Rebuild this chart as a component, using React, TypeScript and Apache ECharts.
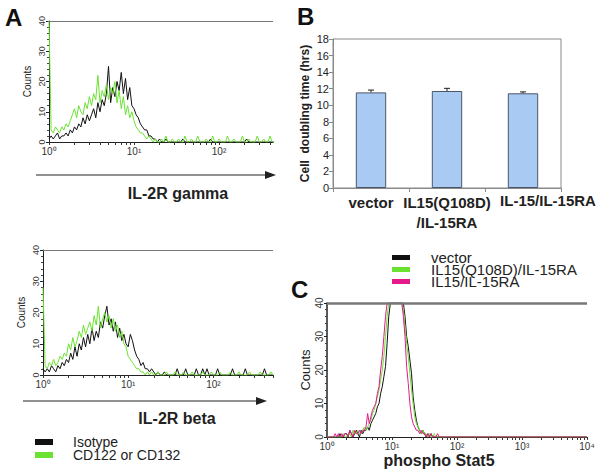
import React, { useEffect, useRef } from "react";
import * as echarts from "echarts";

// ---------- data ----------
// flow-cytometry channels: 40 bins per decade of fluorescence (x axis is log10 of intensity)
const BINS_PER_DECADE = 40;

const aNames = ["Isotype", "CD122 or CD132"];
const cNames = ["vector", "IL15(Q108D)/IL-15RA", "IL15/IL-15RA"];

// Panel A (top) – IL-2R gamma histogram counts per channel bin
const aTopIsotype = [
  1, 2, 1, 2, 3, 1, 2, 2, 3, 2,
  4, 3, 5, 4, 6, 5, 8, 6, 9, 7,
  9, 11, 8, 13, 10, 14, 12, 16, 25, 13,
  18, 15, 20, 17, 23, 16, 21, 14, 18, 12,
  11, 9, 8, 6, 5, 4, 4, 2, 2, 1,
  1, 0, 1, 0, 0, 1, 0, 0, 0, 0,
  0, 0, 0, 1, 0, 0, 0, 0, 0, 0,
  0, 0, 0, 0, 0, 0, 1, 0, 0, 0,
  0, 0, 0, 0, 0, 0, 0, 0, 0, 0,
  0, 0, 0, 1, 0, 0, 0, 0, 0, 0,
  0, 0, 0, 0, 0, 0, 0,
];
const aTopCD = [
  40, 4, 3, 5, 4, 3, 5, 4, 6, 5,
  7, 9, 11, 8, 12, 10, 9, 13, 11, 15,
  12, 16, 14, 22, 13, 17, 15, 19, 14, 18,
  16, 20, 13, 17, 11, 15, 9, 12, 8, 10,
  7, 5, 4, 3, 3, 2, 1, 2, 1, 0,
  1, 0, 0, 1, 0, 2, 0, 0, 1, 0,
  0, 1, 0, 0, 2, 0, 0, 1, 0, 0,
  2, 0, 0, 0, 1, 0, 0, 2, 0, 0,
  1, 0, 0, 0, 2, 0, 0, 1, 0, 0,
  0, 2, 0, 0, 1, 0, 0, 0, 2, 0,
  0, 1, 0, 0, 2, 0, 0,
];

// Panel A (bottom) – IL-2R beta histogram
const aBotIsotype = [
  2, 1, 2, 1, 3, 2, 1, 3, 2, 4,
  3, 5, 4, 7, 5, 9, 6, 10, 8, 12,
  9, 13, 10, 15, 11, 14, 12, 17, 15, 19,
  22, 16, 18, 14, 17, 12, 15, 11, 13, 10,
  9, 13, 11, 8, 6, 5, 3, 4, 2, 2,
  1, 2, 1, 0, 1, 0, 0, 1, 0, 0,
  0, 0, 0, 2, 0, 0, 0, 2, 0, 0,
  0, 0, 2, 0, 0, 2, 0, 2, 0, 0,
  0, 0, 2, 0, 0, 0, 0, 0, 0, 2,
  0, 0, 0, 0, 0, 2, 0, 0, 0, 0,
  0, 0, 0, 0, 2, 0, 0, 0, 0,
];
const aBotCD = [
  28, 3, 2, 4, 3, 5, 3, 4, 6, 5,
  7, 6, 10, 8, 12, 9, 11, 14, 12, 16,
  13, 15, 17, 14, 19, 16, 22, 15, 18, 20,
  17, 19, 15, 18, 14, 16, 12, 14, 10, 9,
  6, 5, 4, 3, 2, 2, 1, 1, 0, 1,
  0, 1, 0, 0, 1, 0, 0, 0, 1, 0,
  0, 0, 1, 0, 0, 0, 1, 0, 0, 0,
  1, 0, 0, 0, 0, 1, 0, 0, 0, 1,
  0, 0, 0, 1, 0, 0, 0, 0, 1, 0,
  0, 0, 1, 0, 0, 0, 0, 1, 0, 0,
  0, 0, 1, 0, 0, 0, 0, 1, 0,
];

// Panel B – cell doubling time
const bCategories = ["vector", "IL15(Q108D)\n/IL-15RA", "IL-15/IL-15RA"];
const bValues = [11.55, 11.72, 11.44];
const bErrors = [0.28, 0.32, 0.17];

// Panel C – phospho Stat5 histograms (remaining channels up to 10^4 are 0)
const cVector = [
  0, 0, 0, 0, 0, 0, 0, 0, 1, 0, 0, 1,
  1, 0, 2, 1, 0, 1, 2, 1, 0, 2, 1, 2,
  2, 3, 2, 4, 5, 6, 7, 9, 10, 13, 15, 18,
  21, 28, 36, 40, 40, 40, 40, 40, 40, 40, 40, 40,
  36, 30, 27, 23, 19, 12, 8, 5, 3, 2, 1, 2,
  1, 0, 1, 0, 1, 0, 0, 0, 0, 0, 0, 0,
];
const cQ108D = [
  0, 0, 0, 0, 0, 0, 0, 0, 0, 0, 1, 0,
  0, 1, 1, 0, 2, 1, 1, 2, 1, 1, 2, 3,
  2, 3, 4, 5, 7, 8, 10, 12, 14, 17, 20, 24,
  30, 36, 40, 40, 40, 40, 40, 40, 40, 40, 40, 38,
  33, 28, 24, 19, 14, 10, 6, 4, 3, 2, 1, 2,
  1, 1, 0, 1, 0, 0, 1, 0, 0, 0, 0, 0,
];
const cIL15 = [
  0, 0, 0, 0, 0, 1, 0, 1, 0, 1, 0, 1,
  1, 0, 2, 1, 0, 2, 1, 1, 2, 1, 2, 2,
  3, 7, 4, 6, 8, 9, 10, 13, 15, 20, 24, 30,
  36, 40, 40, 40, 40, 40, 40, 40, 40, 40, 40, 36,
  30, 21, 16, 10, 6, 4, 3, 2, 2, 1, 2, 1,
  1, 0, 1, 0, 1, 0, 0, 0, 1, 0, 0, 0,
];

// axis ranges in decades (log10 of intensity)
const A_TOP_DECADES = 2.635;
const A_BOT_DECADES = 2.7;
const C_DECADES = 4;

// ---------- helpers ----------
const FONT = "Liberation Sans, Arial, Helvetica, sans-serif";
const SUP: Record<number, string> = { 0: "\u2070", 1: "\u00b9", 2: "\u00b2", 3: "\u00b3", 4: "\u2074" };
const BLACK = "#111111";
const GREEN = "#6be232";
const MAGENTA = "#e41a8c";

const toXY = (arr: number[]) => arr.map((v, i) => [i / BINS_PER_DECADE, v]);
const logLabel = (v: number) => "10" + (SUP[Math.round(v)] ?? "");

// major ticks at each decade plus log minor ticks at 2..9 inside each decade
const logTickPositions = (maxDecade: number) => {
  const out: number[] = [];
  for (let d = 0; d <= Math.floor(maxDecade); d++) {
    for (let m = 1; m <= 9; m++) {
      const p = d + Math.log10(m);
      if (p <= maxDecade + 1e-9) out.push(p);
    }
  }
  return out;
};
const decadeLabels = (maxDecade: number) => {
  const out: number[] = [];
  for (let d = 0; d <= Math.floor(maxDecade + 1e-9); d++) out.push(d);
  return out;
};

const histX = (grid: number, max: number) => ({
  type: "value",
  gridIndex: grid,
  min: 0,
  max,
  interval: 1,
  axisLine: { show: true, lineStyle: { color: "#222", width: 1 } },
  axisTick: { show: true, length: 3, customValues: logTickPositions(max), lineStyle: { color: "#333" } },
  axisLabel: {
    customValues: decadeLabels(max),
    formatter: logLabel,
    fontSize: 10,
    color: "#333",
    margin: 4,
    fontFamily: FONT,
  },
  splitLine: { show: false },
});

const histY = (grid: number, lineWidth: number, labelSize: number, nameSize: number, nameGap: number) => ({
  type: "value",
  gridIndex: grid,
  min: 0,
  max: 40,
  interval: 10,
  axisLine: { show: true, lineStyle: { color: "#222", width: lineWidth } },
  axisTick: { show: true, length: 3, lineStyle: { color: "#222" } },
  minorTick: { show: true, splitNumber: 5, length: 2, lineStyle: { color: "#444" } },
  axisLabel: { rotate: 90, fontSize: labelSize, color: "#333", margin: 3, fontFamily: FONT },
  splitLine: { show: false },
  name: "Counts",
  nameLocation: "middle",
  nameGap,
  nameRotate: 90,
  nameTextStyle: { fontSize: nameSize, color: "#222", fontFamily: FONT },
});

const topLine = (width: number) => ({
  silent: true,
  symbol: "none",
  label: { show: false },
  lineStyle: { color: "#777", width, type: "solid" },
  data: [{ yAxis: 40 }],
});

const histSeries = (name: string, color: string, data: number[][], axis: number, mark?: any) => ({
  type: "line",
  name,
  xAxisIndex: axis,
  yAxisIndex: axis,
  data,
  color,
  symbol: "none",
  showSymbol: false,
  clip: true,
  lineStyle: { color, width: 1 },
  itemStyle: { color },
  ...(mark ? { markLine: mark } : {}),
});

export default function App() {
  const ref = useRef<HTMLDivElement>(null);

  useEffect(() => {
    if (!ref.current) return;
    const chart = echarts.init(ref.current, undefined, { renderer: "svg" });

    const cData = (arr: number[]) => [...toXY(arr), [C_DECADES, 0]];

    const option: any = {
      animation: false,
      backgroundColor: "#ffffff",
      textStyle: { fontFamily: FONT },
      grid: [
        { left: 49, top: 21, width: 224, height: 121 },
        { left: 43, top: 250, width: 230, height: 125 },
        { left: 333, top: 39, width: 228, height: 149, show: true, borderColor: "#8a8a8a", borderWidth: 1 },
        { left: 327, top: 303, width: 260, height: 134 },
      ],
      xAxis: [
        histX(0, A_TOP_DECADES),
        histX(1, A_BOT_DECADES),
        {
          type: "category",
          gridIndex: 2,
          data: bCategories,
          axisLine: { show: true, lineStyle: { color: "#8a8a8a" } },
          axisTick: { show: true, alignWithLabel: false, interval: 0, length: 4, lineStyle: { color: "#8a8a8a" } },
          axisLabel: {
            interval: 0,
            fontSize: 15,
            fontWeight: "bold",
            color: "#222",
            margin: 4,
            lineHeight: 20,
            fontFamily: FONT,
            formatter: (v: string, i: number) => (i === 2 ? "{s|" + v + "}" : v),
            rich: {
              s: { fontSize: 15, fontWeight: "bold", color: "#222", padding: [0, 0, 3, 50], fontFamily: FONT },
            },
          },
          splitLine: { show: false },
        },
        histX(3, C_DECADES),
      ],
      yAxis: [
        histY(0, 1, 9, 10, 17),
        histY(1, 1, 9, 10, 17),
        {
          type: "value",
          gridIndex: 2,
          min: 0,
          max: 18,
          interval: 2,
          axisLine: { show: true, lineStyle: { color: "#8a8a8a" } },
          axisTick: { show: true, length: 4, lineStyle: { color: "#8a8a8a" } },
          axisLabel: { fontSize: 11, color: "#222", margin: 4, fontFamily: FONT },
          splitLine: { show: false },
          name: "Cell  doubling time (hrs)",
          nameLocation: "middle",
          nameGap: 22,
          nameRotate: 90,
          nameTextStyle: { fontSize: 12, fontWeight: "bold", color: "#222", fontFamily: FONT },
        },
        histY(3, 1.5, 10, 13, 15),
      ],
      legend: [
        {
          data: aNames,
          orient: "vertical",
          left: 30,
          top: 430,
          icon: "rect",
          itemWidth: 18,
          itemHeight: 6,
          itemGap: -1,
          selectedMode: false,
          textStyle: { fontSize: 14, color: "#222", padding: [0, 0, 0, 15], fontFamily: FONT },
        },
        {
          data: cNames,
          orient: "vertical",
          left: 387,
          top: 245,
          icon: "rect",
          itemWidth: 18,
          itemHeight: 5,
          itemGap: -3,
          selectedMode: false,
          textStyle: { fontSize: 15, color: "#222", padding: [0, 0, 0, 16], fontFamily: FONT },
        },
      ],
      series: [
        histSeries(aNames[0], BLACK, toXY(aTopIsotype), 0, topLine(1)),
        histSeries(aNames[1], GREEN, toXY(aTopCD), 0),
        histSeries(aNames[0], BLACK, toXY(aBotIsotype), 1, topLine(1)),
        histSeries(aNames[1], GREEN, toXY(aBotCD), 1),
        {
          type: "bar",
          name: "doubling",
          xAxisIndex: 2,
          yAxisIndex: 2,
          data: bValues,
          barWidth: "40%",
          itemStyle: { color: "#a9cbf3", borderColor: "#4a5668", borderWidth: 1 },
        },
        {
          type: "custom",
          name: "error",
          xAxisIndex: 2,
          yAxisIndex: 2,
          data: bValues.map((v, i) => [i, v, bErrors[i]]),
          encode: { x: 0, y: 1 },
          z: 5,
          renderItem: (params: any, api: any) => {
            const i = api.value(0);
            const v = api.value(1);
            const e = api.value(2);
            const hi = api.coord([i, v + e]);
            const base = api.coord([i, v]);
            const hw = 3;
            const style = { stroke: "#222", lineWidth: 1 };
            return {
              type: "group",
              children: [
                { type: "line", shape: { x1: hi[0], y1: hi[1], x2: base[0], y2: base[1] }, style },
                { type: "line", shape: { x1: hi[0] - hw, y1: hi[1], x2: hi[0] + hw, y2: hi[1] }, style },
              ],
            };
          },
        },
        histSeries(cNames[0], BLACK, cData(cVector), 3, topLine(2.5)),
        histSeries(cNames[1], GREEN, cData(cQ108D), 3),
        histSeries(cNames[2], MAGENTA, cData(cIL15), 3),
      ],
      graphic: [
        { type: "text", left: 5, top: 5, style: { text: "A", font: "bold 24px " + FONT, fill: "#111" } },
        { type: "text", left: 297, top: 4, style: { text: "B", font: "bold 24px " + FONT, fill: "#111" } },
        { type: "text", left: 291, top: 277, style: { text: "C", font: "bold 24px " + FONT, fill: "#111" } },
        { type: "line", shape: { x1: 36, y1: 175, x2: 268, y2: 175 }, style: { stroke: "#222", lineWidth: 1 } },
        { type: "polygon", shape: { points: [[265, 171], [276, 175], [265, 179]] }, style: { fill: "#222" } },
        { type: "line", shape: { x1: 23, y1: 401, x2: 259, y2: 401 }, style: { stroke: "#222", lineWidth: 1 } },
        { type: "polygon", shape: { points: [[256, 397], [267, 401], [256, 405]] }, style: { fill: "#222" } },
        {
          type: "text",
          x: 178,
          y: 193,
          style: { text: "IL-2R gamma", font: "bold 16px " + FONT, fill: "#222", align: "center", verticalAlign: "middle" },
        },
        {
          type: "text",
          x: 177,
          y: 418,
          style: { text: "IL-2R beta", font: "bold 16px " + FONT, fill: "#222", align: "center", verticalAlign: "middle" },
        },
        {
          type: "text",
          x: 439,
          y: 460,
          style: { text: "phospho Stat5", font: "bold 16px " + FONT, fill: "#222", align: "center", verticalAlign: "middle" },
        },
      ],
    };

    chart.setOption(option);
    return () => chart.dispose();
  }, []);

  return (
    <div
      ref={ref}
      style={{ position: "absolute", left: 0, top: 0, width: 602, height: 474, background: "#fff" }}
    />
  );
}
